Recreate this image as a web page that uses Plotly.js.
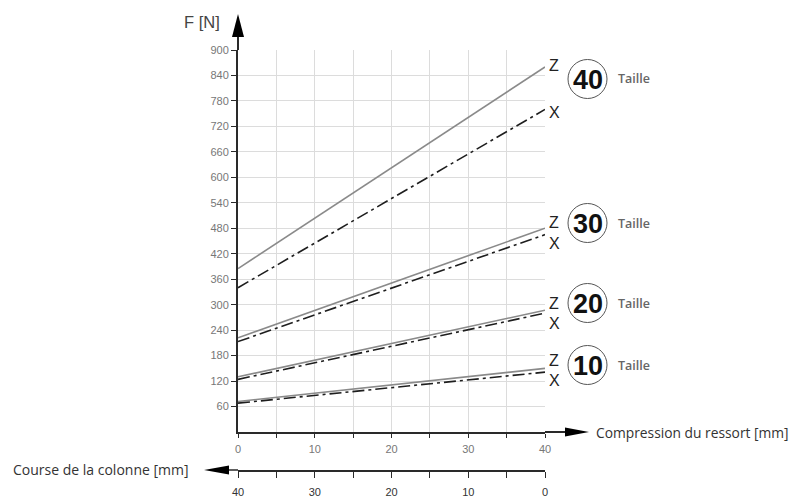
<!DOCTYPE html>
<html>
<head>
<meta charset="utf-8">
<script src="https://cdn.plot.ly/plotly-3.0.1.min.js"></script>
<style>html,body{margin:0;padding:0;background:#fff;}#chart{width:803px;height:504px;}</style>
</head>
<body>
<div id="chart"></div>
<script>
// ---- data ----
const compression = [0, 40];            // Compression du ressort [mm]
const sizes = ['40', '30', '20', '10'];  // Taille
const forceZ40 = [385, 860];
const forceX40 = [340, 760];
const forceZ30 = [222, 480];
const forceX30 = [213, 465];
const forceZ20 = [130, 287];
const forceX20 = [124, 280];
const forceZ10 = [72, 150];
const forceX10 = [68, 141];
const forceTicks = [60,120,180,240,300,360,420,480,540,600,660,720,780,840,900];
const compressionTicks = [0, 10, 20, 30, 40];
const courseTicks = [40, 30, 20, 10, 0];

// ---- layout helpers (pixel -> paper) ----
const W = 803, H = 504;
const L = 238, R = 545, T = 50, B = 470, AXY = 432;
const px = v => (v - L) / (R - L);
const py = v => (B - v) / (B - T);

const zSeries = {'40': forceZ40, '30': forceZ30, '20': forceZ20, '10': forceZ10};
const xSeries = {'40': forceX40, '30': forceX30, '20': forceX20, '10': forceX10};

const traces = [];
sizes.forEach(s => {
  traces.push({x: compression, y: zSeries[s], mode: 'lines', line: {color: '#8a8a8a', width: 1.6}, hoverinfo: 'skip', showlegend: false});
  traces.push({x: compression, y: xSeries[s], mode: 'lines', line: {color: '#1e1e1e', width: 1.6, dash: '12px,4px,3px,4px'}, hoverinfo: 'skip', showlegend: false});
});
// carrier for the reversed "Course de la colonne" axis
traces.push({x: courseTicks, y: courseTicks.map(() => null), xaxis: 'x2', yaxis: 'y', mode: 'lines', hoverinfo: 'skip', showlegend: false});

// label placement (pixel rows)
const zxRows = {'40': [65, 112], '30': [222, 243], '20': [303, 323], '10': [360, 380]};
const circleRows = {'40': 79, '30': 223, '20': 303, '10': 365};

const annotations = [];
const shapes = [];
sizes.forEach(s => {
  const [zr, xr] = zxRows[s];
  annotations.push({xref: 'paper', yref: 'paper', x: px(554), y: py(zr), text: 'Z', showarrow: false, xanchor: 'center', yanchor: 'middle', font: {family: 'Liberation Sans, Arial', size: 16, color: '#222'}});
  annotations.push({xref: 'paper', yref: 'paper', x: px(554), y: py(xr), text: 'X', showarrow: false, xanchor: 'center', yanchor: 'middle', font: {family: 'Liberation Sans, Arial', size: 16, color: '#222'}});
  const cy = circleRows[s];
  shapes.push({type: 'circle', xref: 'paper', yref: 'paper', x0: px(568), x1: px(607), y0: py(cy + 19.5), y1: py(cy - 19.5), line: {color: '#555', width: 1}, fillcolor: 'rgba(0,0,0,0)'});
  annotations.push({xref: 'paper', yref: 'paper', x: px(587.5), y: py(cy + 1), text: '<b>' + s + '</b>', showarrow: false, xanchor: 'center', yanchor: 'middle', font: {family: 'Liberation Sans Narrow, Liberation Sans, Arial', size: 27, color: '#111'}});
  annotations.push({xref: 'paper', yref: 'paper', x: px(616), y: py(cy), text: 'Taille', showarrow: false, xanchor: 'left', yanchor: 'middle', font: {family: 'Open Sans, Noto Sans', size: 12.5, color: '#666', weight: 600}});
});

annotations.push({xref: 'paper', yref: 'paper', x: px(182), y: py(22), text: 'F [N]', showarrow: false, xanchor: 'left', yanchor: 'middle', font: {family: 'Liberation Sans, Arial', size: 16.5, color: '#444'}});
annotations.push({xref: 'paper', yref: 'paper', x: px(594), y: py(432), text: 'Compression du ressort [mm]', showarrow: false, xanchor: 'left', yanchor: 'middle', font: {family: 'Open Sans, Noto Sans', size: 13.8, color: '#333'}});
annotations.push({xref: 'paper', yref: 'paper', x: px(11), y: py(469), text: 'Course de la colonne [mm]', showarrow: false, xanchor: 'left', yanchor: 'middle', font: {family: 'Open Sans, Noto Sans', size: 14, color: '#333'}});

// axis extensions and arrows
const axCol = '#2a2a2a';
shapes.push({type: 'line', xref: 'paper', yref: 'paper', x0: px(L), x1: px(L), y0: py(T), y1: py(34), line: {color: axCol, width: 2}});
shapes.push({type: 'path', xref: 'paper', yref: 'paper', path: `M ${px(L)} ${py(14)} L ${px(L-6)} ${py(37)} L ${px(L+6)} ${py(37)} Z`, fillcolor: '#000', line: {width: 0}});
shapes.push({type: 'line', xref: 'paper', yref: 'paper', x0: px(R), x1: px(568), y0: py(AXY), y1: py(AXY), line: {color: axCol, width: 2}});
shapes.push({type: 'path', xref: 'paper', yref: 'paper', path: `M ${px(589)} ${py(AXY)} L ${px(565)} ${py(AXY-4.5)} L ${px(565)} ${py(AXY+4.5)} Z`, fillcolor: '#000', line: {width: 0}});
shapes.push({type: 'line', xref: 'paper', yref: 'paper', x0: px(226), x1: px(L), y0: py(B), y1: py(B), line: {color: axCol, width: 1.5}});
shapes.push({type: 'path', xref: 'paper', yref: 'paper', path: `M ${px(204)} ${py(B)} L ${px(229)} ${py(B-4.5)} L ${px(229)} ${py(B+4.5)} Z`, fillcolor: '#000', line: {width: 0}});

const layout = {
  width: W, height: H,
  margin: {l: L, r: W - R, t: T, b: H - B, pad: 0},
  paper_bgcolor: '#fff', plot_bgcolor: '#fff',
  showlegend: false,
  xaxis: {
    range: [0, 40], domain: [0, 1], anchor: 'y',
    tickvals: compressionTicks, ticktext: compressionTicks.map(String),
    ticks: 'outside', ticklen: 4, tickcolor: axCol, tickwidth: 1,
    showgrid: true, gridcolor: '#dcdcdc', gridwidth: 1,
    minor: {dtick: 5, tick0: 0, showgrid: true, gridcolor: '#dcdcdc', ticks: 'outside', ticklen: 4, tickcolor: axCol},
    showline: true, linecolor: axCol, linewidth: 2, zeroline: false,
    ticklabelstandoff: 2,
    tickfont: {family: 'Liberation Sans, Arial', size: 11, color: '#777'}
  },
  xaxis2: {
    range: [40, 0], overlaying: 'x', anchor: 'free', position: 0, side: 'bottom',
    tickvals: courseTicks, ticktext: courseTicks.map(String),
    ticks: 'outside', ticklen: 6, tickcolor: axCol, tickwidth: 1,
    minor: {dtick: 5, tick0: 0, ticks: 'outside', ticklen: 6, tickcolor: axCol, showgrid: false},
    showgrid: false, showline: true, linecolor: axCol, linewidth: 1.5, zeroline: false,
    ticklabelstandoff: 5,
    tickfont: {family: 'Liberation Sans, Arial', size: 11, color: '#333'}
  },
  yaxis: {
    range: [0, 900], domain: [(B - AXY) / (B - T), 1], anchor: 'x',
    tickvals: forceTicks, ticktext: forceTicks.map(String),
    ticks: 'outside', ticklen: 5, tickcolor: axCol, tickwidth: 1,
    showgrid: true, gridcolor: '#dcdcdc', gridwidth: 1,
    showline: true, linecolor: axCol, linewidth: 2, zeroline: false,
    tickfont: {family: 'Liberation Sans, Arial', size: 11, color: '#777'}
  },
  shapes: shapes,
  annotations: annotations
};

Plotly.newPlot('chart', traces, layout, {staticPlot: true, displayModeBar: false});
</script>
</body>
</html>
